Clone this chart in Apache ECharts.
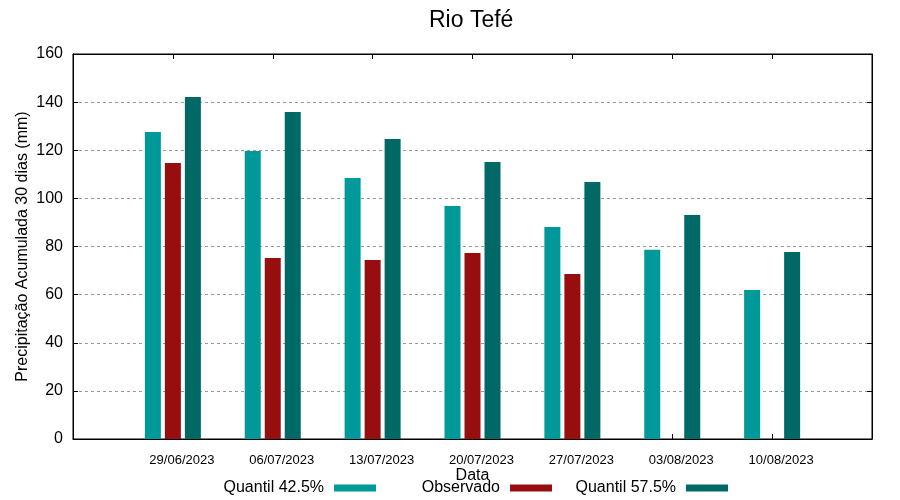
<!DOCTYPE html>
<html>
<head>
<meta charset="utf-8">
<script src="https://cdn.jsdelivr.net/npm/echarts@6/dist/echarts.min.js"></script>
<style>html,body{margin:0;padding:0;background:#fff}#c{width:900px;height:500px}</style>
</head>
<body>
<div id="c"></div>
<script>
var dates = ['29/06/2023','06/07/2023','13/07/2023','20/07/2023','27/07/2023','03/08/2023','10/08/2023'];
var q425 = [127.6, 119.7, 108.5, 96.8, 88.1, 78.6, 61.9];
var observado = [114.7, 75.2, 74.4, 77.3, 68.6, null, null];
var q575 = [142.1, 135.9, 124.7, 115.1, 106.8, 93.1, 77.7];
var yTicks = [0, 20, 40, 60, 80, 100, 120, 140, 160];

function pts(arr) {
  var out = [];
  arr.forEach(function (v, i) { if (v !== null) out.push([i, v]); });
  return out;
}
var FONT = 'Liberation Sans, Arial, sans-serif';
var chart = echarts.init(document.getElementById('c'), null, {renderer: 'canvas'});
function legendAt(name, right) {
  return {
    data: [name], right: right, top: 480, padding: 0, align: 'right',
    icon: 'rect', itemWidth: 42, itemHeight: 7,
    textStyle: {fontFamily: FONT, fontSize: 16, color: '#000', padding: [0, 5, 0, 0]}
  };
}
var tickStyle = {show: true, inside: true, length: 5, lineStyle: {color: '#000'}};
var option = {
  animation: false,
  backgroundColor: '#fff',
  title: {
    text: 'Rio Tefé', left: 429, top: 9, padding: 0,
    textStyle: {fontFamily: FONT, fontSize: 23, fontWeight: 'normal', color: '#000'}
  },
  legend: [legendAt('Quantil 42.5%', 524), legendAt('Observado', 348), legendAt('Quantil 57.5%', 172)],
  grid: {left: 73, right: 28, top: 54, bottom: 61, show: true, borderColor: '#000', borderWidth: 1, backgroundColor: 'transparent'},
  xAxis: [{
    type: 'value', min: -1, max: 7, interval: 1,
    name: 'Data', nameLocation: 'middle', nameGap: 29, nameMoveOverlap: false,
    nameTextStyle: {fontFamily: FONT, fontSize: 16, color: '#000'},
    axisLine: {show: true, onZero: false, lineStyle: {color: '#000', width: 1}},
    axisTick: tickStyle,
    splitLine: {show: false},
    axisLabel: {
      fontFamily: FONT, fontSize: 13, color: '#000', margin: 15, padding: [0, 0, 0, 18],
      formatter: function (v) { return (v >= 0 && v < dates.length) ? dates[v] : ''; }
    }
  }, {
    type: 'value', position: 'top', min: -1, max: 7, interval: 1,
    axisLine: {show: true, onZero: false, lineStyle: {color: '#000'}},
    axisTick: tickStyle,
    axisLabel: {show: false}, splitLine: {show: false}
  }],
  yAxis: [{
    type: 'value', min: yTicks[0], max: yTicks[yTicks.length - 1], interval: 20,
    name: 'Precipitação Acumulada 30 dias (mm)', nameLocation: 'middle', nameGap: 42, nameMoveOverlap: false,
    nameTextStyle: {fontFamily: FONT, fontSize: 16, color: '#000'},
    axisLine: {show: true, onZero: false, lineStyle: {color: '#000'}},
    axisTick: tickStyle,
    axisLabel: {fontFamily: FONT, fontSize: 16, color: '#000', margin: 10},
    splitLine: {show: true, lineStyle: {color: '#999', type: [3, 3], width: 1}}
  }, {
    type: 'value', position: 'right', min: 0, max: 160, interval: 20,
    axisLine: {show: true, onZero: false, lineStyle: {color: '#000'}},
    axisTick: tickStyle,
    axisLabel: {show: false}, splitLine: {show: false}
  }],
  series: [
    {name: 'Quantil 42.5%', type: 'bar', data: pts(q425), barWidth: 16, barGap: '25%', itemStyle: {color: '#009999'}},
    {name: 'Observado', type: 'bar', data: pts(observado), barWidth: 16, barGap: '25%', itemStyle: {color: '#970e0e'}},
    {name: 'Quantil 57.5%', type: 'bar', data: pts(q575), barWidth: 16, barGap: '25%', itemStyle: {color: '#006966'}}
  ]
};
chart.setOption(option);
</script>
</body>
</html>
